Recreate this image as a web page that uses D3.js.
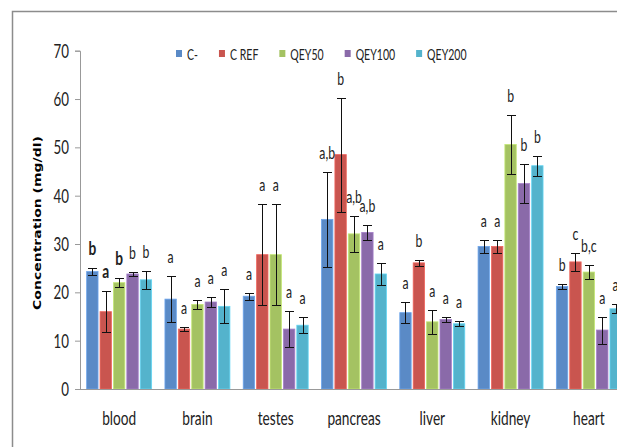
<!DOCTYPE html>
<html>
<head>
<meta charset="utf-8">
<script src="https://cdn.jsdelivr.net/npm/d3@7"></script>
<style>
  body { margin: 0; background: #fff; }
  svg { display: block; font-family: Lato, "Open Sans", sans-serif; }
</style>
</head>
<body>
<div id="chart"></div>
<script>
// organs on the x axis
const organs = ['blood', 'brain', 'testes', 'pancreas', 'liver', 'kidney', 'heart'];
// groups (legend order)
const groups = ['C-', 'C REF', 'QEY50', 'QEY100', 'QEY200'];

// mean concentration (mg/dl), one array per group, in organ order
const cMinus = [24.3, 18.6, 19.2, 35.1, 15.8, 29.5, 21.2];
const cRef = [16.0, 12.4, 27.8, 48.5, 26.1, 29.5, 26.3];
const qey50 = [22.0, 17.5, 27.8, 32.1, 13.9, 50.6, 24.2];
const qey100 = [23.8, 18.0, 12.4, 32.4, 14.4, 42.5, 12.2];
const qey200 = [22.6, 17.1, 13.2, 23.8, 13.5, 46.2, 16.6];

// error (+/-)
const errCMinus = [0.8, 4.8, 0.7, 9.9, 2.1, 1.3, 0.5];
const errCRef = [4.2, 0.5, 10.4, 11.8, 0.6, 1.3, 1.9];
const errQey50 = [0.9, 0.9, 10.4, 3.8, 2.5, 6.1, 1.5];
const errQey100 = [0.5, 1.1, 3.7, 1.5, 0.5, 4.0, 2.8];
const errQey200 = [1.9, 3.5, 1.6, 2.2, 0.5, 2.1, 0.9];

// significance letters
const sigCMinus = ['b', 'a', 'a', 'a,b', 'a', 'a', 'b'];
const sigCRef = ['a', 'a', 'a', 'b', 'b', 'a', 'c'];
const sigQey50 = ['b', 'a', 'a', 'a,b', 'a', 'b', 'b,c'];
const sigQey100 = ['b', 'a', 'a', 'a,b', 'a', 'b', 'a'];
const sigQey200 = ['b', 'a', 'a', 'a', 'a', 'b', 'a'];

const yTicks = [0, 10, 20, 30, 40, 50, 60, 70];

const colors = ['#5A8AC6', '#C9554F', '#A4C262', '#8A6AA9', '#54B3CC'];

const means = [cMinus, cRef, qey50, qey100, qey200];
const errs = [errCMinus, errCRef, errQey50, errQey100, errQey200];
const sigs = [sigCMinus, sigCRef, sigQey50, sigQey100, sigQey200];

// flatten into one row per bar
const rows = [];
organs.forEach((organ, oi) => {
  groups.forEach((g, gi) => {
    rows.push({
      organ, group: g, gi, value: means[gi][oi], err: errs[gi][oi], sig: sigs[gi][oi],
    });
  });
});

const width = 617;
const height = 447;
const SX = 0.72; // the original picture is squeezed horizontally

const svg = d3.select('#chart').append('svg')
  .attr('width', width)
  .attr('height', height);

// outer chart frame (cut off on the right and bottom)
svg.append('path')
  .attr('d', `M12.5,${height + 5}V11.5H${width + 5}`)
  .attr('fill', 'none')
  .attr('stroke', '#8c8c8c')
  .attr('stroke-width', 1.5);

const plot = { left: 80, top: 50.7, bottom: 389, right: 628 };

const x = d3.scaleBand()
  .domain(organs)
  .range([plot.left, plot.right])
  .paddingInner(0.17)
  .paddingOuter(0.085);

const xInner = d3.scaleBand()
  .domain(groups)
  .range([0, x.bandwidth()])
  .paddingInner(0.15);

const y = d3.scaleLinear()
  .domain([0, 70])
  .range([plot.bottom, plot.top]);

// y axis
const yAxisG = svg.append('g')
  .attr('transform', `translate(${plot.left},0)`)
  .call(d3.axisLeft(y).tickValues(yTicks).tickSize(5).tickPadding(0));
yAxisG.select('.domain').attr('stroke', '#999');
yAxisG.selectAll('.tick line').attr('stroke', '#999');
yAxisG.selectAll('.tick text')
  .attr('x', null)
  .attr('dy', null)
  .attr('dominant-baseline', 'central')
  .attr('transform', `translate(-11,-1) scale(${SX},1)`)
  .attr('font-family', 'Lato, sans-serif')
  .attr('font-size', 18.5)
  .attr('fill', '#222');

// bars
const barG = svg.append('g');
barG.selectAll('rect')
  .data(rows)
  .join('rect')
  .attr('x', (d) => x(d.organ) + xInner(d.group))
  .attr('width', xInner.bandwidth())
  .attr('y', (d) => y(d.value))
  .attr('height', (d) => y(0) - y(d.value))
  .attr('fill', (d) => colors[d.gi])
  .attr('stroke', (d) => d3.color(colors[d.gi]).brighter(0.5))
  .attr('stroke-width', 0.8);

// error bars
const cx = (d) => x(d.organ) + xInner(d.group) + xInner.bandwidth() / 2;
const errG = svg.append('g')
  .attr('stroke', '#111')
  .attr('stroke-width', 1)
  .attr('fill', 'none');
errG.selectAll('path')
  .data(rows)
  .join('path')
  .attr('d', (d) => {
    const c = Math.round(cx(d)) + 0.5;
    const t = Math.round(y(d.value + d.err)) + 0.5;
    const b = Math.round(y(d.value - d.err)) + 0.5;
    return `M${c - 4.5},${t}H${c + 4.5}M${c},${t}V${b}M${c - 4.5},${b}H${c + 4.5}`;
  });

// x axis line
svg.append('line')
  .attr('x1', plot.left)
  .attr('x2', plot.right)
  .attr('y1', plot.bottom + 0.5)
  .attr('y2', plot.bottom + 0.5)
  .attr('stroke', '#999');

// significance letters
svg.append('g').selectAll('text')
  .data(rows)
  .join('text')
  .attr('transform', (d) => `translate(${cx(d)},${y(d.value + d.err) - 13}) scale(${SX},1)`)
  .attr('text-anchor', 'middle')
  .attr('font-size', (d) => (d.organ === 'blood' && d.gi < 3 ? 19 : 17))
  .attr('font-weight', (d) => (d.organ === 'blood' && d.gi < 3 ? 'bold' : 'normal'))
  .attr('fill', '#222')
  .text((d) => d.sig);

// organ labels
svg.append('g').selectAll('text')
  .data(organs)
  .join('text')
  .attr('transform', (d) => `translate(${x(d) + x.bandwidth() / 2},425) scale(${SX},1)`)
  .attr('text-anchor', 'middle')
  .attr('font-size', 19)
  .attr('fill', '#222')
  .text((d) => d);

// y axis title
svg.append('text')
  .attr('transform', `translate(41,223) scale(${SX},1) rotate(-90)`)
  .attr('text-anchor', 'middle')
  .attr('font-family', '"DejaVu Sans", sans-serif')
  .attr('font-weight', 'bold')
  .attr('font-size', 14)
  .attr('fill', '#000')
  .text('Concentration (mg/dl)');

// legend
const legend = svg.append('g');
const LSX = 0.68;
let lx = 176;
groups.forEach((g, gi) => {
  legend.append('rect')
    .attr('x', lx)
    .attr('y', 50)
    .attr('width', 6)
    .attr('height', 7)
    .attr('fill', colors[gi]);
  const t = legend.append('text')
    .attr('transform', `translate(${lx + 11},60) scale(${LSX},1)`)
    .attr('font-size', 15.5)
    .attr('fill', '#222')
    .text(g);
  lx += 11 + t.node().getComputedTextLength() * LSX + 21;
});
</script>
</body>
</html>
